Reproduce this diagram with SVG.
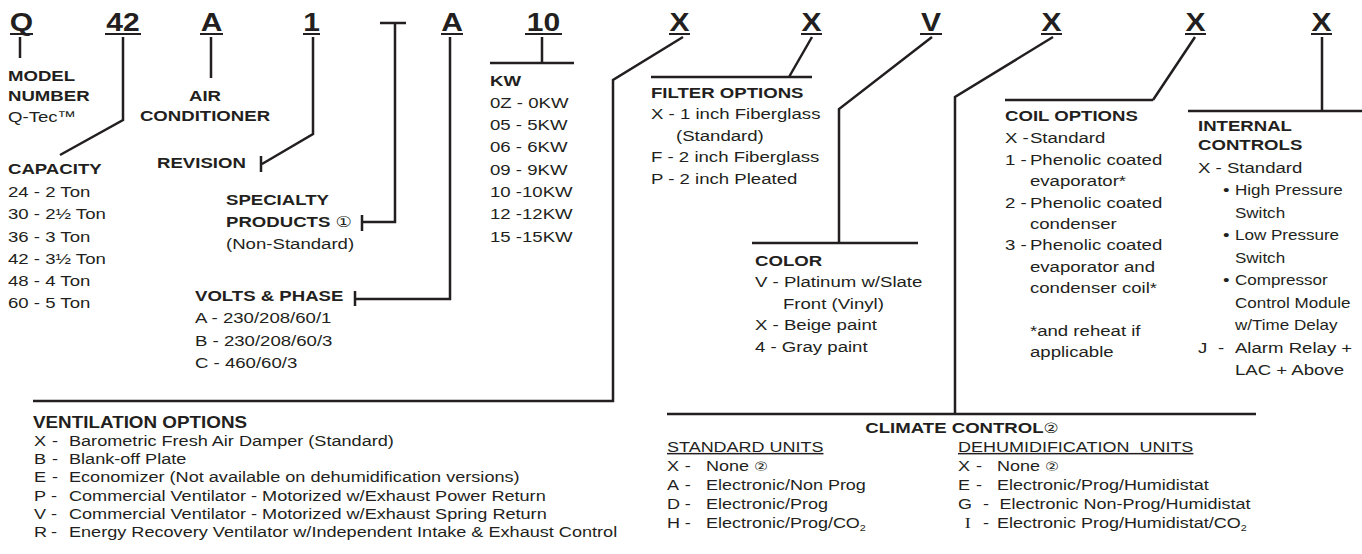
<svg xmlns="http://www.w3.org/2000/svg" width="1362" height="554" viewBox="0 0 1362 554">
<style>
text{font-family:"Liberation Sans",Arial,"DejaVu Sans","Noto Sans CJK JP",sans-serif;fill:#231f20}
.code{font-size:25px;font-weight:bold}
.b{font-weight:bold}
.blk{font-size:15.5px}
.nb{font-size:14.2px}
.vh{font-size:15.7px}
.sm{font-size:15.1px}
.cl{font-size:15px}
.c{text-anchor:middle}
.u{text-decoration:underline}
.serif{font-family:"Liberation Serif","Times New Roman",serif}
.ln{stroke:#231f20;stroke-width:2.5;fill:none;stroke-linecap:butt;stroke-linejoin:miter}
.ul{stroke:#231f20;stroke-width:2}
</style>
<rect width="1362" height="554" fill="#ffffff"/>

<g id="codes">
<text class="code c" transform="translate(21.5,31) scale(1.2 1)">Q</text>
<text class="code c" transform="translate(123,31) scale(1.2 1)">42</text>
<text class="code c" transform="translate(211.5,31) scale(1.2 1)">A</text>
<text class="code c" transform="translate(311.5,31) scale(1.2 1)">1</text>
<text class="code c" transform="translate(452,31) scale(1.2 1)">A</text>
<text class="code c" transform="translate(543.5,31) scale(1.2 1)">10</text>
<text class="code c" transform="translate(679.5,31) scale(1.2 1)">X</text>
<text class="code c" transform="translate(811.5,31) scale(1.2 1)">X</text>
<text class="code c" transform="translate(931,31) scale(1.2 1)">V</text>
<text class="code c" transform="translate(1051.5,31) scale(1.2 1)">X</text>
<text class="code c" transform="translate(1195.5,31) scale(1.2 1)">X</text>
<text class="code c" transform="translate(1321.5,31) scale(1.2 1)">X</text>
<path class="ul" d="M10,34H33M105,34H141M200,34H223M303,34H320M441,34H463M525,34H562M669,34H690M801,34H822M920,34H942M1041,34H1062M1185,34H1206M1311,34H1332"/>
</g>

<g id="connectors">
<path class="ln" d="M20,37V58"/>
<path class="ln" d="M123,37V120L60,155"/>
<path class="ln" d="M211,37V78"/>
<path class="ln" d="M313,37V134L262,164M261,156V172"/>
<path class="ln" d="M380,23H406M395,23V222H362M362,215V231"/>
<path class="ln" d="M450,37V299H355M355,291V306"/>
<path class="ln" d="M542,37V63M490,63H574"/>
<path class="ln" d="M683,37L613,80V401H33"/>
<path class="ln" d="M812,37L789,77M651,77H812"/>
<path class="ln" d="M932,37L839,109V243M752,243H918"/>
<path class="ln" d="M1053,37L955,97V414M667,414H1256"/>
<path class="ln" d="M1195,37L1153,100M1005,100H1153"/>
<path class="ln" d="M1322,37V111M1188,111H1362"/>
</g>

<g id="model-number">
<text class="blk" transform="translate(8,81) scale(1.2 1)"><tspan class="b" x="0" y="0">MODEL</tspan><tspan class="b" x="0" y="20.5">NUMBER</tspan><tspan x="0" y="41.5">Q-Tec™</tspan></text>
</g>

<g id="air-conditioner">
<text class="blk b c" transform="translate(205,100.5) scale(1.2 1)"><tspan x="0" y="0">AIR</tspan><tspan x="0" y="21">CONDITIONER</tspan></text>
</g>

<g id="capacity">
<text class="blk" transform="translate(8,174) scale(1.2 1)"><tspan class="b" x="0" y="0">CAPACITY</tspan><tspan x="0" y="23">24 - 2 Ton</tspan><tspan x="0" y="45.3">30 - 2½ Ton</tspan><tspan x="0" y="67.6">36 - 3 Ton</tspan><tspan x="0" y="89.9">42 - 3½ Ton</tspan><tspan x="0" y="112.2">48 - 4 Ton</tspan><tspan x="0" y="134.5">60 - 5 Ton</tspan></text>
</g>

<g id="revision">
<text class="blk b" transform="translate(157,167.5) scale(1.2 1)">REVISION</text>
</g>

<g id="specialty-products">
<text class="blk" transform="translate(226,205) scale(1.2 1)"><tspan class="b" x="0" y="0">SPECIALTY</tspan><tspan class="b" x="0" y="22">PRODUCTS </tspan><tspan font-size="15">①</tspan><tspan x="0" y="44">(Non-Standard)</tspan></text>
</g>

<g id="volts-phase">
<text class="blk" transform="translate(195,301) scale(1.2 1)"><tspan class="b" x="0" y="0">VOLTS &amp; PHASE</tspan><tspan x="0" y="22.5">A - 230/208/60/1</tspan><tspan x="0" y="44.8">B - 230/208/60/3</tspan><tspan x="0" y="67.1">C - 460/60/3</tspan></text>
</g>

<g id="kw">
<text class="blk" transform="translate(490,85.5) scale(1.2 1)"><tspan class="b" x="0" y="0">KW</tspan><tspan x="0" y="22.3">0Z - 0KW</tspan><tspan x="0" y="44.6">05 - 5KW</tspan><tspan x="0" y="66.9">06 - 6KW</tspan><tspan x="0" y="89.2">09 - 9KW</tspan><tspan x="0" y="111.5">10 -10KW</tspan><tspan x="0" y="133.8">12 -12KW</tspan><tspan x="0" y="156.1">15 -15KW</tspan></text>
</g>

<g id="filter-options">
<text class="blk" transform="translate(651,97.5) scale(1.2 1)"><tspan class="b" x="0" y="0">FILTER OPTIONS</tspan><tspan x="0" y="21.6">X - 1 inch Fiberglass</tspan><tspan x="20.8" y="43.2">(Standard)</tspan><tspan x="0" y="64.8">F - 2 inch Fiberglass</tspan><tspan x="0" y="86.4">P - 2 inch Pleated</tspan></text>
</g>

<g id="color">
<text class="blk" transform="translate(755,266) scale(1.2 1)"><tspan class="b" x="0" y="0">COLOR</tspan><tspan x="0" y="21.5">V - Platinum w/Slate</tspan><tspan x="23.3" y="43">Front (Vinyl)</tspan><tspan x="0" y="64.5">X - Beige paint</tspan><tspan x="0" y="86">4 - Gray paint</tspan></text>
</g>

<g id="coil-options">
<text class="blk" transform="translate(1005,121) scale(1.2 1)"><tspan class="b" x="0" y="0">COIL OPTIONS</tspan><tspan x="0" y="22.5">X -</tspan><tspan x="20.8" y="22.5">Standard</tspan><tspan x="0" y="43.9">1 -</tspan><tspan x="20.8" y="43.9">Phenolic coated</tspan><tspan x="20.8" y="65.3">evaporator*</tspan><tspan x="0" y="86.7">2 -</tspan><tspan x="20.8" y="86.7">Phenolic coated</tspan><tspan x="20.8" y="108.1">condenser</tspan><tspan x="0" y="129.5">3 -</tspan><tspan x="20.8" y="129.5">Phenolic coated</tspan><tspan x="20.8" y="150.9">evaporator and</tspan><tspan x="20.8" y="172.3">condenser coil*</tspan><tspan x="20.8" y="215.1">*and reheat if</tspan><tspan x="20.8" y="236.5">applicable</tspan></text>
</g>

<g id="internal-controls">
<text class="blk" transform="translate(1198,130.5) scale(1.2 1)"><tspan class="b" x="0" y="0">INTERNAL</tspan><tspan class="b" x="0" y="20">CONTROLS</tspan><tspan x="0" y="42.3">X - Standard</tspan><tspan x="20.8" y="64.8">•</tspan><tspan class="nb" x="30.8" y="64.8">High Pressure</tspan><tspan class="nb" x="30.8" y="87.3">Switch</tspan><tspan x="20.8" y="109.8">•</tspan><tspan class="nb" x="30.8" y="109.8">Low Pressure</tspan><tspan class="nb" x="30.8" y="132.3">Switch</tspan><tspan x="20.8" y="154.8">•</tspan><tspan class="nb" x="30.8" y="154.8">Compressor</tspan><tspan class="nb" x="30.8" y="177.3">Control Module</tspan><tspan class="nb" x="30.8" y="199.8">w/Time Delay</tspan><tspan x="0" y="222.3">J</tspan><tspan x="16.7" y="222.3">-</tspan><tspan x="30.8" y="222.3">Alarm Relay +</tspan><tspan x="30.8" y="244.8">LAC + Above</tspan></text>
</g>

<g id="ventilation-options">
<text class="sm" transform="translate(33,428) scale(1.2 1)"><tspan class="b vh" x="0" y="0">VENTILATION OPTIONS</tspan><tspan x="0.8" y="18">X</tspan><tspan x="15.8" y="18">-</tspan><tspan x="30" y="18">Barometric Fresh Air Damper (Standard)</tspan><tspan x="0.8" y="36.2">B</tspan><tspan x="15.8" y="36.2">-</tspan><tspan x="30" y="36.2">Blank-off Plate</tspan><tspan x="0.8" y="54.4">E</tspan><tspan x="15.8" y="54.4">-</tspan><tspan x="30" y="54.4">Economizer (Not available on dehumidification versions)</tspan><tspan x="0.8" y="72.6">P</tspan><tspan x="15" y="72.6">-</tspan><tspan x="30" y="72.6">Commercial Ventilator - Motorized w/Exhaust Power Return</tspan><tspan x="0.8" y="90.8">V</tspan><tspan x="15" y="90.8">-</tspan><tspan x="30" y="90.8">Commercial Ventilator - Motorized w/Exhaust Spring Return</tspan><tspan x="0.8" y="109">R</tspan><tspan x="15" y="109">-</tspan><tspan x="30" y="109">Energy Recovery Ventilator w/Independent Intake &amp; Exhaust Control</tspan></text>
</g>

<g id="climate-control">
<text class="blk b c" transform="translate(962,433) scale(1.2 1)">CLIMATE CONTROL<tspan font-weight="normal" font-size="14">②</tspan></text>
<text class="cl u" transform="translate(667,452) scale(1.2 1)">STANDARD UNITS</text>
<text class="cl" transform="translate(667,452) scale(1.2 1)"><tspan x="0" y="19">X</tspan><tspan x="14.7" y="19">-</tspan><tspan x="32.5" y="19">None </tspan><tspan font-size="13">②</tspan><tspan x="0" y="38">A</tspan><tspan x="14.7" y="38">-</tspan><tspan x="32.5" y="38">Electronic/Non Prog</tspan><tspan x="0" y="57">D</tspan><tspan x="14.7" y="57">-</tspan><tspan x="32.5" y="57">Electronic/Prog</tspan><tspan x="0" y="76">H</tspan><tspan x="14.7" y="76">-</tspan><tspan x="32.5" y="76">Electronic/Prog/CO</tspan><tspan font-size="9" dy="3">2</tspan></text>
<text class="cl u" xml:space="preserve" transform="translate(958,452) scale(1.2 1)">DEHUMIDIFICATION  UNITS</text>
<text class="cl" transform="translate(958,452) scale(1.2 1)"><tspan x="0" y="19">X</tspan><tspan x="15" y="19">-</tspan><tspan x="32.5" y="19">None </tspan><tspan font-size="13">②</tspan><tspan x="0" y="38">E</tspan><tspan x="15" y="38">-</tspan><tspan x="32.5" y="38">Electronic/Prog/Humidistat</tspan><tspan x="0" y="57">G</tspan><tspan x="20.8" y="57">-</tspan><tspan x="34.7" y="57">Electronic Non-Prog/Humidistat</tspan><tspan class="serif" x="5.7" y="76">I</tspan><tspan x="20.8" y="76">-</tspan><tspan x="32.5" y="76">Electronic Prog/Humidistat/CO</tspan><tspan font-size="9" dy="3">2</tspan></text>
</g>
</svg>
